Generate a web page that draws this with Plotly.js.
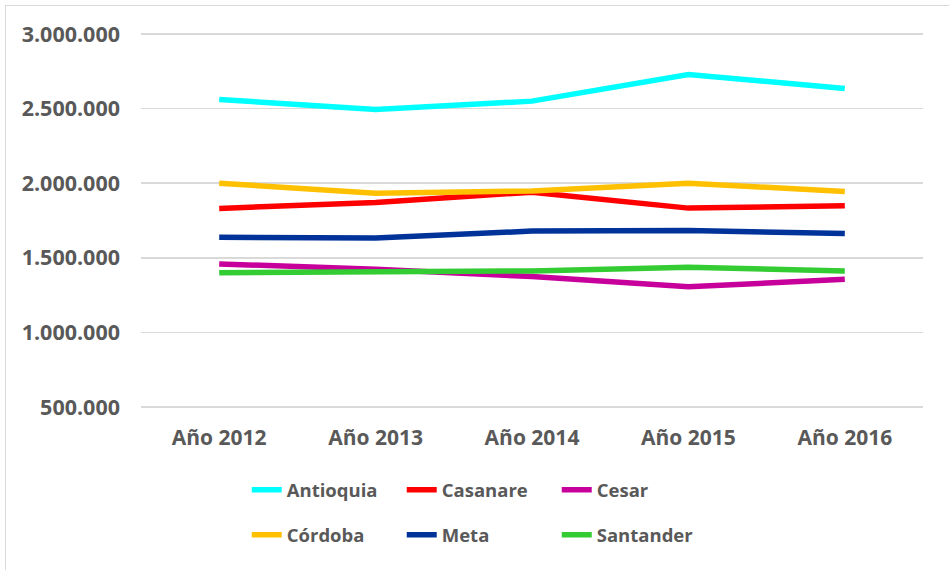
<!DOCTYPE html>
<html>
<head>
<meta charset="utf-8">
<script src="https://cdn.plot.ly/plotly-3.0.1.min.js"></script>
<style>
  html, body { margin: 0; padding: 0; background: #ffffff; overflow: hidden; }
  #wrap { position: relative; width: 949px; height: 570px; }
  #chart { position: absolute; left: 0; top: 0; width: 949px; height: 570px; }
  #frame { position: absolute; left: 5px; top: 5px; width: 960px; height: 600px;
           border-left: 1.5px solid #d9d9d9; border-top: 1.5px solid #d9d9d9; pointer-events: none; }
</style>
</head>
<body>
<div id="wrap">
  <div id="chart"></div>
  <div id="frame"></div>
</div>
<script>
const years = ["Año 2012", "Año 2013", "Año 2014", "Año 2015", "Año 2016"];

const antioquia = [2561000, 2494000, 2550000, 2729000, 2635000];
const casanare  = [1831000, 1871000, 1940000, 1833000, 1849000];
const cesar     = [1459000, 1424000, 1374000, 1306000, 1356000];
const cordoba   = [2000000, 1932000, 1948000, 2000000, 1945000];
const meta      = [1638000, 1632000, 1679000, 1683000, 1663000];
const santander = [1400000, 1407000, 1412000, 1437000, 1412000];

const yTicks = [500000, 1000000, 1500000, 2000000, 2500000, 3000000];
const yTickText = ["500.000", "1.000.000", "1.500.000", "2.000.000", "2.500.000", "3.000.000"];

const series = [
  { name: "Antioquia", y: antioquia, color: "#00FFFF", legend: "legend" },
  { name: "Casanare",  y: casanare,  color: "#FF0000", legend: "legend" },
  { name: "Cesar",     y: cesar,     color: "#C8009B", legend: "legend" },
  { name: "Córdoba",   y: cordoba,   color: "#FFC000", legend: "legend2" },
  { name: "Meta",      y: meta,      color: "#00339A", legend: "legend2" },
  { name: "Santander", y: santander, color: "#33CC33", legend: "legend2" }
];

const data = series.map(s => ({
  type: "scatter",
  mode: "lines",
  name: s.name,
  x: years,
  y: s.y,
  legend: s.legend,
  line: { color: s.color, width: 5.5 },
  hoverinfo: "skip"
}));

const txt = { family: "Open Sans, DejaVu Sans, sans-serif", size: 21.5, color: "#595959", weight: "bold" };
const xTxt = { family: "Open Sans, DejaVu Sans, sans-serif", size: 21, color: "#595959", weight: "bold" };
const legTxt = { family: "Open Sans, DejaVu Sans, sans-serif", size: 18.5, color: "#595959", weight: "bold" };

const layout = {
  width: 949,
  height: 570,
  paper_bgcolor: "#ffffff",
  plot_bgcolor: "#ffffff",
  margin: { l: 141, r: 26, t: 31, b: 160 },
  showlegend: true,
  xaxis: {
    type: "category",
    range: [-0.5, 4.5],
    showgrid: false,
    zeroline: false,
    showline: false,
    ticks: "",
    tickfont: xTxt,
    ticklabelstandoff: 13
  },
  yaxis: {
    range: [480000, 3020000],
    tickvals: yTicks,
    ticktext: yTickText,
    showgrid: true,
    gridcolor: "#d9d9d9",
    gridwidth: 1.5,
    zeroline: false,
    showline: false,
    ticks: "",
    tickfont: txt,
    ticklabelstandoff: 20
  },
  legend: {
    orientation: "h",
    xref: "container", yref: "container",
    x: 0.260, y: 0.14, xanchor: "left", yanchor: "middle",
    entrywidth: 110, entrywidthmode: "pixels",
    font: legTxt,
    bgcolor: "rgba(0,0,0,0)",
    itemclick: false, itemdoubleclick: false
  },
  legend2: {
    orientation: "h",
    xref: "container", yref: "container",
    x: 0.260, y: 0.061, xanchor: "left", yanchor: "middle",
    entrywidth: 110, entrywidthmode: "pixels",
    font: legTxt,
    bgcolor: "rgba(0,0,0,0)",
    itemclick: false, itemdoubleclick: false
  }
};

Plotly.newPlot("chart", data, layout, { displayModeBar: false, staticPlot: true });
</script>
</body>
</html>
